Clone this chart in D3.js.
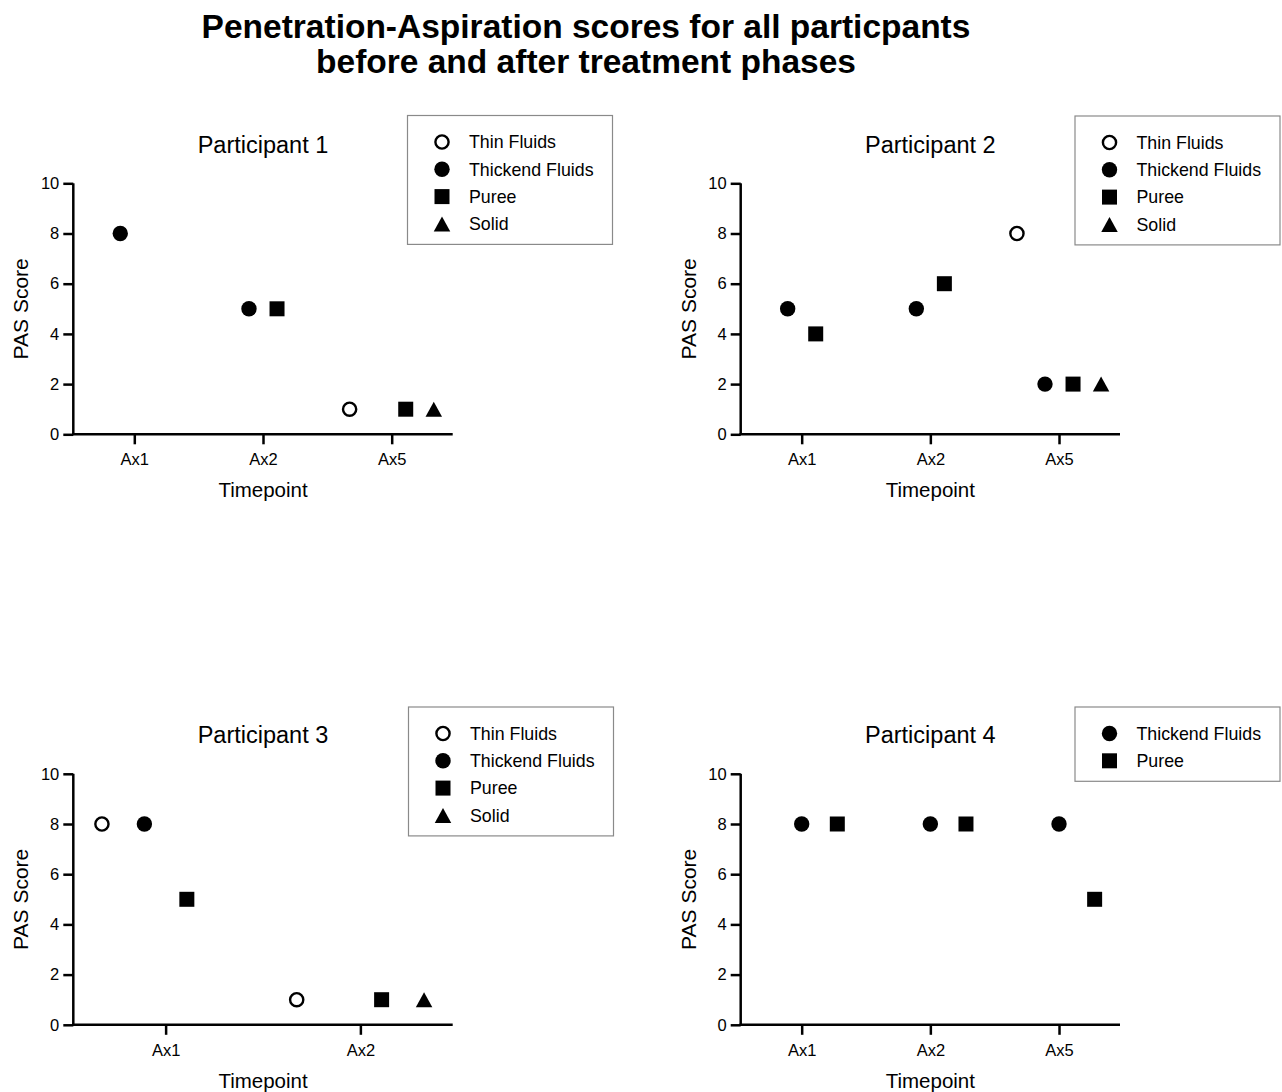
<!DOCTYPE html>
<html>
<head>
<meta charset="utf-8">
<script src="https://cdn.jsdelivr.net/npm/d3@7"></script>
<style>
  html, body { margin: 0; padding: 0; background: #fff; }
  svg { display: block; font-family: "Liberation Sans", Arial, sans-serif; }
</style>
</head>
<body>
<svg id="chart" width="1282" height="1092"></svg>
<script>
// ---------------- data ----------------
const titleLines = ["Penetration-Aspiration scores for all particpants", "before and after treatment phases"];
const panelTitles = ["Participant 1", "Participant 2", "Participant 3", "Participant 4"];
const seriesNames = ["Thin Fluids", "Thickend Fluids", "Puree", "Solid"];
const timepoints3 = ["Ax1", "Ax2", "Ax5"];
const timepoints2 = ["Ax1", "Ax2"];
const yTicks = [0, 2, 4, 6, 8, 10];

// Participant 1 (Ax1, Ax2, Ax5)
const p1Thin   = [null, null, 1];
const p1Thick  = [8, 5, null];
const p1Puree  = [null, 5, 1];
const p1Solid  = [null, null, 1];
// Participant 2 (Ax1, Ax2, Ax5)
const p2Thin   = [null, null, 8];
const p2Thick  = [5, 5, 2];
const p2Puree  = [4, 6, 2];
const p2Solid  = [null, null, 2];
// Participant 3 (Ax1, Ax2)
const p3Thin   = [8, 1];
const p3Thick  = [8, null];
const p3Puree  = [5, 1];
const p3Solid  = [null, 1];
// Participant 4 (Ax1, Ax2, Ax5)
const p4Thick  = [8, 8, 8];
const p4Puree  = [8, 8, 5];

// ---------------- layout ----------------
const panels = [
  { title: panelTitles[0], cats: timepoints3, left: 73.3, right: 452.7, top: 183.3, bottom: 434.3,
    series: [[0, p1Thin], [1, p1Thick], [2, p1Puree], [3, p1Solid]], dodge: [-1.5, -0.5, 0.5, 1.5],
    legend: { x: 407, y: 115, w: 205, items: [0, 1, 2, 3] } },
  { title: panelTitles[1], cats: timepoints3, left: 740.7, right: 1120, top: 183.3, bottom: 434.3,
    series: [[0, p2Thin], [1, p2Thick], [2, p2Puree], [3, p2Solid]], dodge: [-1.5, -0.5, 0.5, 1.5],
    legend: { x: 1074.5, y: 115.5, w: 205, items: [0, 1, 2, 3] } },
  { title: panelTitles[2], cats: timepoints2, left: 73.3, right: 452.7, top: 773.8, bottom: 1024.8,
    series: [[0, p3Thin], [1, p3Thick], [2, p3Puree], [3, p3Solid]], dodge: [-1.5, -0.5, 0.5, 1.5],
    legend: { x: 408, y: 706.5, w: 205, items: [0, 1, 2, 3] } },
  { title: panelTitles[3], cats: timepoints3, left: 740.7, right: 1120, top: 773.8, bottom: 1024.8,
    series: [[1, p4Thick], [2, p4Puree]], dodge: [0, 0, 1.27, 0],
    legend: { x: 1074.5, y: 706.5, w: 205, items: [1, 2] } }
];

const svg = d3.select("#chart");
const FONT = '"Liberation Sans", Arial, sans-serif';

// main title
svg.append("g").selectAll("text").data(titleLines).join("text")
  .attr("x", 586).attr("y", (d, i) => 37.5 + i * 35)
  .attr("text-anchor", "middle")
  .attr("font-size", 33.5).attr("font-weight", "bold").attr("fill", "#000")
  .text(d => d);

function drawMarker(g, type, x, y) {
  if (type === 0) {
    g.append("circle").attr("cx", x).attr("cy", y).attr("r", 6.6)
      .attr("fill", "#fff").attr("stroke", "#000").attr("stroke-width", 2.4);
  } else if (type === 1) {
    g.append("path").attr("d", d3.symbol(d3.symbolCircle, Math.PI * 7.7 * 7.7)())
      .attr("transform", `translate(${x},${y})`).attr("fill", "#000");
  } else if (type === 2) {
    g.append("path").attr("d", d3.symbol(d3.symbolSquare, 15 * 15)())
      .attr("transform", `translate(${x},${y})`).attr("fill", "#000");
  } else {
    const w = 16.5, h = 15;
    g.append("path")
      .attr("d", `M${x},${y - h / 2}L${x + w / 2},${y + h / 2}L${x - w / 2},${y + h / 2}Z`)
      .attr("fill", "#000");
  }
}

panels.forEach(p => {
  const g = svg.append("g");
  const x = d3.scalePoint().domain(p.cats).range([p.left, p.right]).padding(0.474);
  const y = d3.scaleLinear().domain([0, 10]).range([p.bottom, p.top]);
  const step = x.step() * 0.218;

  // y axis
  const ya = g.append("g").attr("transform", `translate(${p.left},0)`)
    .call(d3.axisLeft(y).tickValues(yTicks).tickSize(10).tickPadding(4).tickSizeOuter(0));
  // x axis
  const xa = g.append("g").attr("transform", `translate(0,${p.bottom})`)
    .call(d3.axisBottom(x).tickSize(10).tickPadding(9).tickSizeOuter(0));
  [ya, xa].forEach(a => {
    a.select(".domain").attr("stroke", "#000").attr("stroke-width", 2.5);
    a.selectAll(".tick line").attr("stroke", "#000").attr("stroke-width", 2.5);
    a.selectAll(".tick text").attr("font-size", 16.5).attr("font-family", FONT).attr("fill", "#000");
  });
  xa.select(".domain").attr("d", `M${p.left - 1.25},0H${p.right}`);
  ya.select(".domain").attr("d", `M0,${p.top}V${p.bottom}`);

  // titles
  g.append("text").attr("x", (p.left + p.right) / 2).attr("y", p.top - 30.5)
    .attr("text-anchor", "middle").attr("font-size", 23.5).attr("fill", "#000").text(p.title);
  g.append("text").attr("x", (p.left + p.right) / 2).attr("y", p.bottom + 63)
    .attr("text-anchor", "middle").attr("font-size", 20.5).attr("fill", "#000").text("Timepoint");
  g.append("text").attr("transform", `translate(${p.left - 45},${(p.top + p.bottom) / 2}) rotate(-90)`)
    .attr("text-anchor", "middle").attr("font-size", 21).attr("fill", "#000").text("PAS Score");

  // points
  const pts = g.append("g");
  p.series.forEach(([type, vals]) => {
    vals.forEach((v, i) => {
      if (v === null) return;
      drawMarker(pts, type, x(p.cats[i]) + p.dodge[type] * step, y(v));
    });
  });

  // legend
  const L = p.legend;
  const rowStep = 27.3, first = 27;
  const lh = first + (L.items.length - 1) * rowStep + 20;
  const lg = g.append("g");
  lg.append("rect").attr("x", L.x + 0.5).attr("y", L.y + 0.5).attr("width", L.w).attr("height", lh)
    .attr("fill", "#fff").attr("stroke", "#8a8a8a").attr("stroke-width", 1.2);
  L.items.forEach((t, i) => {
    const cy = L.y + first + i * rowStep;
    drawMarker(lg, t, L.x + 35, cy);
    lg.append("text").attr("x", L.x + 62).attr("y", cy).attr("dy", "0.35em")
      .attr("font-size", 17.8).attr("fill", "#000").text(seriesNames[t]);
  });
});
</script>
</body>
</html>
